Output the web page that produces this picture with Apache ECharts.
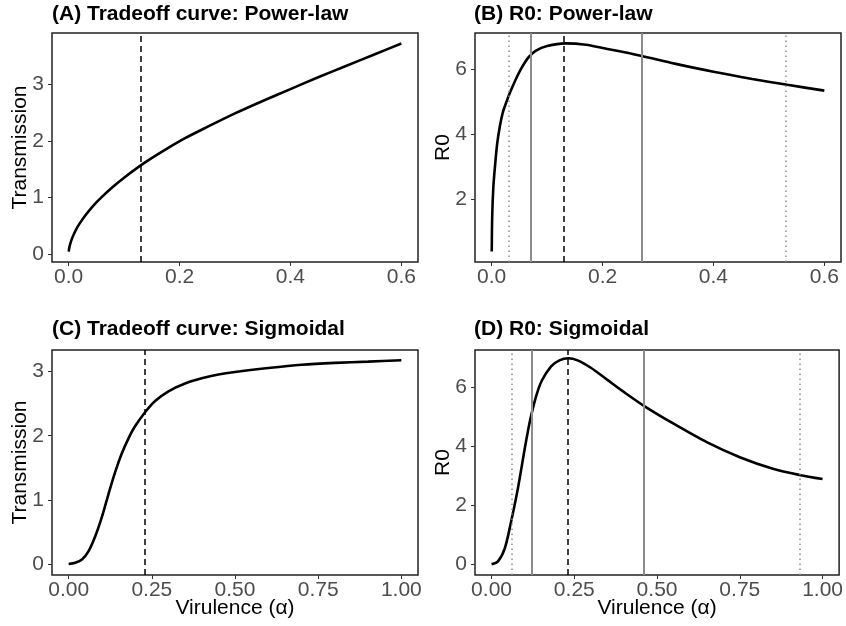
<!DOCTYPE html>
<html>
<head>
<meta charset="utf-8">
<script src="https://cdn.jsdelivr.net/npm/echarts@6/dist/echarts.min.js"></script>
<style>
  html, body { margin: 0; padding: 0; background: #fff; }
  #chart { width: 846px; height: 626px; }
</style>
</head>
<body>
<div id="chart"></div>
<script>
var chart = echarts.init(document.getElementById('chart'));

// (A) tradeoff, power-law
var alphaA = [0.0002, 0.001, 0.003, 0.006, 0.01, 0.015, 0.02, 0.03, 0.045, 0.06, 0.08, 0.1, 0.1333, 0.17, 0.21, 0.25, 0.3, 0.35, 0.4, 0.45, 0.5, 0.55, 0.6];
var betaA  = [0.04, 0.10, 0.18, 0.27, 0.36, 0.46, 0.54, 0.68, 0.86, 1.01, 1.19, 1.35, 1.59, 1.82, 2.05, 2.25, 2.49, 2.71, 2.92, 3.13, 3.33, 3.53, 3.73];
// (B) R0, power-law
var alphaB = [0.0002, 0.001, 0.003, 0.006, 0.01, 0.015, 0.02, 0.027, 0.0333, 0.042, 0.052, 0.0667, 0.08, 0.1, 0.1333, 0.17, 0.2, 0.2667, 0.33, 0.4, 0.47, 0.5333, 0.6];
var r0B    = [0.39, 1.45, 2.35, 3.0, 3.7, 4.25, 4.65, 5.0, 5.28, 5.62, 5.97, 6.36, 6.56, 6.70, 6.78, 6.74, 6.64, 6.41, 6.16, 5.91, 5.69, 5.51, 5.33];
// (C) tradeoff, sigmoidal
var alphaC = [0, 0.02, 0.04, 0.06, 0.08, 0.1, 0.12, 0.14, 0.16, 0.18, 0.2, 0.232, 0.26, 0.3, 0.35, 0.4, 0.45, 0.5, 0.6, 0.7, 0.8, 0.9, 1.0];
var betaC  = [0.01, 0.03, 0.08, 0.21, 0.44, 0.74, 1.10, 1.44, 1.73, 1.96, 2.15, 2.38, 2.54, 2.69, 2.81, 2.89, 2.95, 2.99, 3.05, 3.10, 3.13, 3.15, 3.17];
// (D) R0, sigmoidal
var alphaD = [0, 0.02, 0.04, 0.058, 0.08, 0.1, 0.116, 0.135, 0.152, 0.18, 0.205, 0.232, 0.26, 0.3, 0.35, 0.4, 0.465, 0.55, 0.65, 0.75, 0.85, 0.93, 1.0];
var r0D    = [0.01, 0.12, 0.55, 1.4, 2.6, 3.9, 4.85, 5.7, 6.22, 6.70, 6.90, 6.97, 6.90, 6.65, 6.24, 5.83, 5.33, 4.76, 4.14, 3.63, 3.24, 3.03, 2.89];

// vertical reference lines
var optB = 0.1333, solidB = [0.0667, 0.2667], dotB = [0.0333, 0.5333];
var optD = 0.232,  solidD = [0.116, 0.464],   dotD = [0.058, 0.928];

var xTicksTop = [0, 0.2, 0.4, 0.6];
var xTicksBot = [0, 0.25, 0.5, 0.75, 1];
var yTicksA = [0, 1, 2, 3];
var yTicksB = [2, 4, 6];
var yTicksC = [0, 1, 2, 3];
var yTicksD = [0, 2, 4, 6];

var titles = ['(A) Tradeoff curve: Power-law', '(B) R0: Power-law', '(C) Tradeoff curve: Sigmoidal', '(D) R0: Sigmoidal'];

var FONT = '"Liberation Sans", Arial, sans-serif';

function pairs(xs, ys) {
  return xs.map(function (x, i) { return [x, ys[i]]; });
}

function xAxisOf(idx, min, max, ticks, digits, name) {
  return {
    type: 'value', gridIndex: idx, min: min, max: max,
    name: name, nameLocation: 'middle', nameGap: 23, nameMoveOverlap: false,
    nameTextStyle: { color: '#000', fontSize: 21, fontFamily: FONT },
    axisLine: { show: false, onZero: false },
    splitLine: { show: false },
    axisTick: { show: true, customValues: ticks, length: 4, lineStyle: { color: '#333', width: 1 } },
    axisLabel: { customValues: ticks, margin: 5, color: '#4d4d4d', fontSize: 21, fontFamily: FONT,
      formatter: function (v) { return v.toFixed(digits); } }
  };
}

function yAxisOf(idx, min, max, ticks, name) {
  return {
    type: 'value', gridIndex: idx, min: min, max: max,
    name: name, nameLocation: 'middle', nameGap: 21, nameMoveOverlap: false,
    nameTextStyle: { color: '#000', fontSize: 21, fontFamily: FONT },
    axisLine: { show: false, onZero: false },
    splitLine: { show: false },
    axisTick: { show: true, customValues: ticks, length: 4, lineStyle: { color: '#333', width: 1 } },
    axisLabel: { customValues: ticks, margin: 8, color: '#4d4d4d', fontSize: 21, fontFamily: FONT,
      formatter: function (v) { return String(v); } }
  };
}

function vlines(opt, solid, dot) {
  var d = [{ xAxis: opt, lineStyle: { color: '#000', type: [6, 4], width: 1.5 } }];
  (solid || []).forEach(function (v) {
    d.push({ xAxis: v, lineStyle: { color: '#8c8c8c', type: 'solid', width: 2 } });
  });
  (dot || []).forEach(function (v) {
    d.push({ xAxis: v, lineStyle: { color: '#8c8c8c', type: [1.5, 3.5], width: 1.5 } });
  });
  return { symbol: 'none', silent: true, label: { show: false }, data: d };
}

function curve(idx, data, ml) {
  return {
    type: 'line', xAxisIndex: idx, yAxisIndex: idx, data: data,
    showSymbol: false, smooth: 0.3,
    lineStyle: { color: '#000', width: 2.6 },
    markLine: ml, z: 3
  };
}

var gridStyle = { show: true, borderColor: '#222', borderWidth: 1.5, backgroundColor: '#fff' };

var option = {
  animation: false,
  backgroundColor: '#fff',
  title: [
    { text: titles[0], left: 52, top: 4 },
    { text: titles[1], left: 474, top: 4 },
    { text: titles[2], left: 52, top: 319 },
    { text: titles[3], left: 474, top: 319 }
  ].map(function (t) {
    t.padding = 0;
    t.textStyle = { fontSize: 21, fontWeight: 'bold', color: '#000', fontFamily: FONT };
    return t;
  }),
  grid: [
    Object.assign({ left: 52, top: 33, width: 366, height: 229 }, gridStyle),
    Object.assign({ left: 475, top: 33, width: 366, height: 229 }, gridStyle),
    Object.assign({ left: 52, top: 350, width: 366, height: 225 }, gridStyle),
    Object.assign({ left: 475, top: 350, width: 366, height: 225 }, gridStyle)
  ],
  xAxis: [
    xAxisOf(0, -0.03, 0.63, xTicksTop, 1, ''),
    xAxisOf(1, -0.03, 0.63, xTicksTop, 1, ''),
    xAxisOf(2, -0.05, 1.05, xTicksBot, 2, 'Virulence (α)'),
    xAxisOf(3, -0.05, 1.05, xTicksBot, 2, 'Virulence (α)')
  ],
  yAxis: [
    yAxisOf(0, -0.145, 3.915, yTicksA, 'Transmission'),
    yAxisOf(1, 0.07, 7.10, yTicksB, 'R0'),
    yAxisOf(2, -0.16, 3.33, yTicksC, 'Transmission'),
    yAxisOf(3, -0.35, 7.25, yTicksD, 'R0')
  ],
  series: [
    curve(0, pairs(alphaA, betaA), vlines(optB)),
    curve(1, pairs(alphaB, r0B), vlines(optB, solidB, dotB)),
    curve(2, pairs(alphaC, betaC), vlines(optD)),
    curve(3, pairs(alphaD, r0D), vlines(optD, solidD, dotD))
  ]
};

chart.setOption(option);
</script>
</body>
</html>
